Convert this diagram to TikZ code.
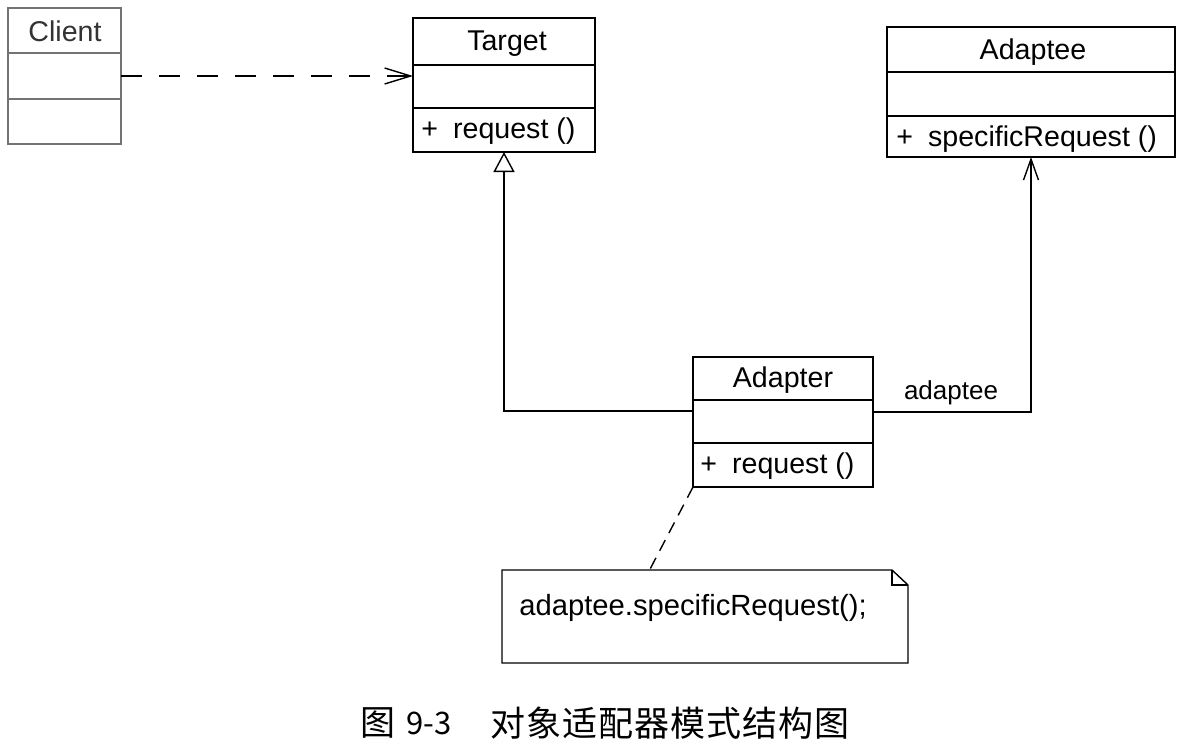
\documentclass[tikz,border=0pt]{standalone}
\usepackage{fontspec}
\setmainfont{Liberation Sans}
\newfontfamily\cjk{Noto Sans CJK SC}
\usetikzlibrary{arrows.meta,calc}
\begin{document}
\begin{tikzpicture}[x=0.5pt,y=-0.5pt,
  umlbox/.style={draw, line width=0.7pt, inner sep=0pt, outer sep=0pt, fill=white},
  lbl/.style={inner sep=0pt, font=\fontsize{14.3pt}{17pt}\selectfont},
  small/.style={inner sep=0pt, font=\fontsize{13pt}{15pt}\selectfont},
  conn/.style={line width=0.7pt},
  captext/.style={inner sep=0pt, font=\cjk\fontsize{17.5pt}{20pt}\selectfont}]
\fill[white] (0,0) rectangle (1200,755);
\useasboundingbox (0,0) rectangle (1200,755);

% Client
\node[umlbox, draw=black!55, minimum width=56.5pt, minimum height=68pt] (client) at (64.5,76) {};
\draw[line width=0.7pt, black!55] ($(client.north west)+(0,45)$) -- ($(client.north east)+(0,45)$);
\draw[line width=0.7pt, black!55] ($(client.north west)+(0,91)$) -- ($(client.north east)+(0,91)$);
\node[lbl, text=black!80] (clientname) at (65,31) {Client};

% Target
\node[umlbox, minimum width=91pt, minimum height=67pt] (target) at (504,85) {};
\draw[conn] ($(target.north west)+(0,47)$) -- ($(target.north east)+(0,47)$);
\draw[conn] ($(target.north west)+(0,90)$) -- ($(target.north east)+(0,90)$);
\node[lbl] (targetname) at (507,44) {Target};
\node[lbl, anchor=west] (targetop) at (421,131) {+\hspace{7.5pt}request ()};

% Adaptee
\node[umlbox, minimum width=144pt, minimum height=65pt] (adaptee) at (1031,92) {};
\draw[conn] ($(adaptee.north west)+(0,45)$) -- ($(adaptee.north east)+(0,45)$);
\draw[conn] ($(adaptee.north west)+(0,89)$) -- ($(adaptee.north east)+(0,89)$);
\node[lbl] (adapteename) at (1033,52) {Adaptee};
\node[lbl, anchor=west] (adapteeop) at (896,139) {+\hspace{7.5pt}specificRequest ()};

% Adapter
\node[umlbox, minimum width=90pt, minimum height=65pt] (adapter) at (783,422) {};
\draw[conn] ($(adapter.north west)+(0,43)$) -- ($(adapter.north east)+(0,43)$);
\draw[conn] ($(adapter.north west)+(0,86)$) -- ($(adapter.north east)+(0,86)$);
\node[lbl] (adaptername) at (783,380) {Adapter};
\node[lbl, anchor=west] (adapterop) at (700,466) {+\hspace{7.5pt}request ()};

% Note
\node[inner sep=0pt, outer sep=0pt, minimum width=203pt, minimum height=46.5pt] (note) at (705,616.5) {};
\draw[conn] (note.north west) -- ($(note.north east)+(-16,0)$) -- ($(note.north east)+(0,15)$)
  -- (note.south east) -- (note.south west) -- cycle;
\draw[conn] ($(note.north east)+(-16,0)$) -- ($(note.north east)+(-16,15)$) -- ($(note.north east)+(0,15)$);
\node[lbl, anchor=west, font=\fontsize{14.6pt}{17pt}\selectfont] (notetext) at (519,608) {adaptee.specificRequest();};
\coordinate (notelink) at (648,573);

% Connectors
\draw[conn, dash pattern=on 10.5pt off 8.5pt, -{Straight Barb[length=13pt,width=8pt]}]
  (client.east) -- (client.east -| target.west);
\draw[conn, -{Triangle[open, length=10pt, width=10.5pt, fill=white]}]
  ([yshift=5.5pt]adapter.west) -| (target.south);
\draw[conn, -{Straight Barb[length=10.5pt, width=7.5pt]}]
  ([yshift=5pt]adapter.east) -| (adaptee.south);
\node[small] (assoclabel) at (951,393) {adaptee};
\draw[conn, dash pattern=on 6pt off 4pt] (adapter.south west) -- (notelink);

% Caption
\node[captext] (cap1) at (378,723) {图};
\node[captext, font=\cjk\fontsize{15.5pt}{18pt}\selectfont] (cap2) at (429,723) {9-3};
\node[captext] (cap3) at (670,723) {对\kern0.5pt 象\kern0.5pt 适\kern0.5pt 配\kern0.5pt 器\kern0.5pt 模\kern0.5pt 式\kern0.5pt 结\kern0.5pt 构\kern0.5pt 图};
\end{tikzpicture}
\end{document}
